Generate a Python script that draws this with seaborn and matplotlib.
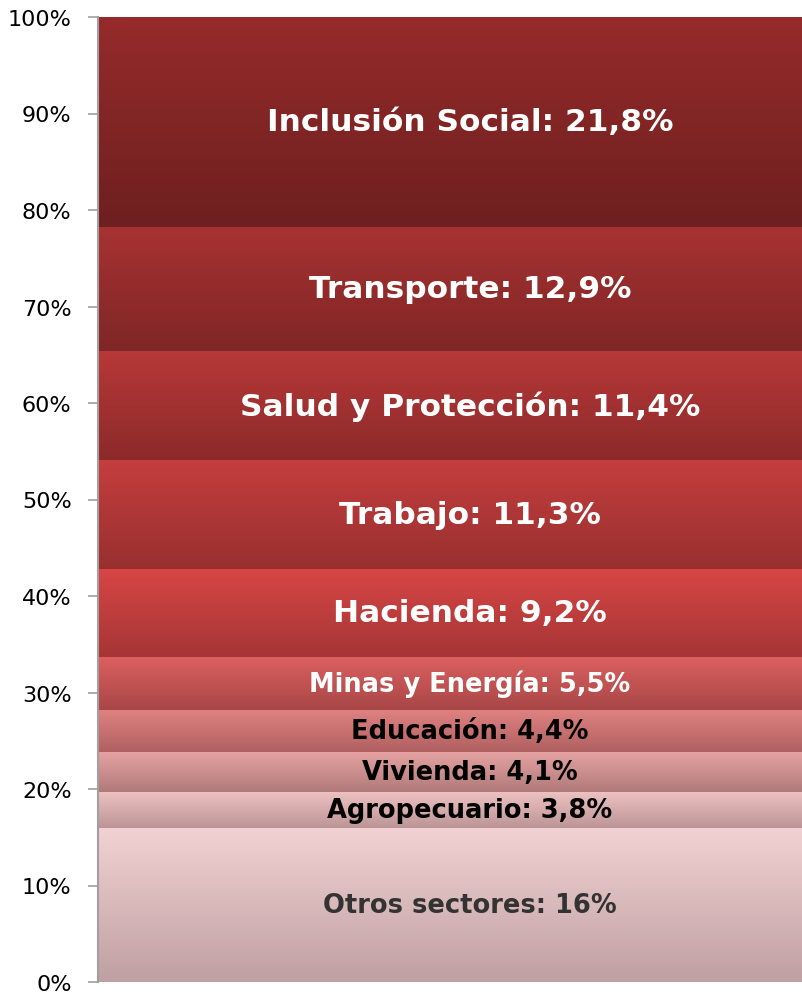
import numpy as np
import pandas as pd
import matplotlib
matplotlib.use("Agg")
import matplotlib.pyplot as plt
import matplotlib.colors as mcolors
import seaborn as sns

# Datos (de abajo hacia arriba)
sectores = ['Otros sectores', 'Agropecuario', 'Vivienda', 'Educación', 'Minas y Energía',
            'Hacienda', 'Trabajo', 'Salud y Protección', 'Transporte', 'Inclusión Social']
valores = [16, 3.8, 4.1, 4.4, 5.5, 9.2, 11.3, 11.4, 12.9, 21.8]
etiquetas = ['Otros sectores: 16%', 'Agropecuario: 3,8%', 'Vivienda: 4,1%', 'Educación: 4,4%',
             'Minas y Energía: 5,5%', 'Hacienda: 9,2%', 'Trabajo: 11,3%',
             'Salud y Protección: 11,4%', 'Transporte: 12,9%', 'Inclusión Social: 21,8%']

# colores degradados (arriba, abajo) por segmento
color_arriba = ['#F2D2D2', '#EEC2C2', '#E6A2A2', '#E08282', '#DC6060',
                '#D84646', '#C53E3E', '#B83838', '#A83232', '#962B2B']
color_abajo = ['#BFA0A2', '#BD9596', '#B07A7A', '#B06060', '#A84646',
               '#A53535', '#982F2F', '#8C2A2A', '#7F2626', '#6E1F1F']
color_texto = ['#333333', 'black', 'black', 'black', 'white',
               'white', 'white', 'white', 'white', 'white']
tam_texto = [18.5, 18.5, 18.5, 18.5, 18.5, 22.5, 22.5, 22.5, 22.5, 22.5]

total = sum(valores)
df = pd.DataFrame({'sector': sectores, 'pct': [v / total * 100 for v in valores]})
df['base'] = df['pct'].cumsum() - df['pct']
df['x'] = ''

sns.set_style('white')
fig = plt.figure(figsize=(8.03, 9.95), dpi=100)
ax = fig.add_axes([98 / 803, 12 / 995, 1 - 98 / 803, 965 / 995])

for i, row in df.iterrows():
    sns.barplot(data=df.iloc[[i]], x='x', y='pct', bottom=row['base'], width=0.8,
                color=color_arriba[i], ax=ax, linewidth=0)

# degradado vertical en cada barra
for i, p in enumerate(ax.patches):
    x0, y0 = p.get_x(), p.get_y()
    w, h = p.get_width(), p.get_height()
    cmap = mcolors.LinearSegmentedColormap.from_list('g', [color_abajo[i], color_arriba[i]])
    grad = np.linspace(0, 1, 256).reshape(-1, 1)
    im = ax.imshow(grad, extent=[x0, x0 + w, y0, y0 + h], origin='lower',
                   cmap=cmap, aspect='auto', zorder=2)
    im.set_clip_path(p)
    ax.text(0, y0 + h / 2, etiquetas[i], ha='center', va='center', fontsize=tam_texto[i],
            fontweight='bold', color=color_texto[i], zorder=3)

ax.set_xlim(-0.4, 0.358)
ax.set_ylim(0, 100)
ax.set_yticks(np.arange(0, 101, 10))
ax.set_yticklabels([f'{t}%' for t in range(0, 101, 10)], fontsize=16, color='black')
ax.set_xticks([])
ax.set_xlabel('')
ax.set_ylabel('')
for s in ['top', 'right', 'bottom']:
    ax.spines[s].set_visible(False)
ax.spines['left'].set_color('#A0A0A0')
ax.spines['left'].set_linewidth(1.5)
ax.tick_params(axis='y', left=True, length=7, width=1.2, color='#A0A0A0', pad=12)

fig.savefig('out.png', dpi=100)
